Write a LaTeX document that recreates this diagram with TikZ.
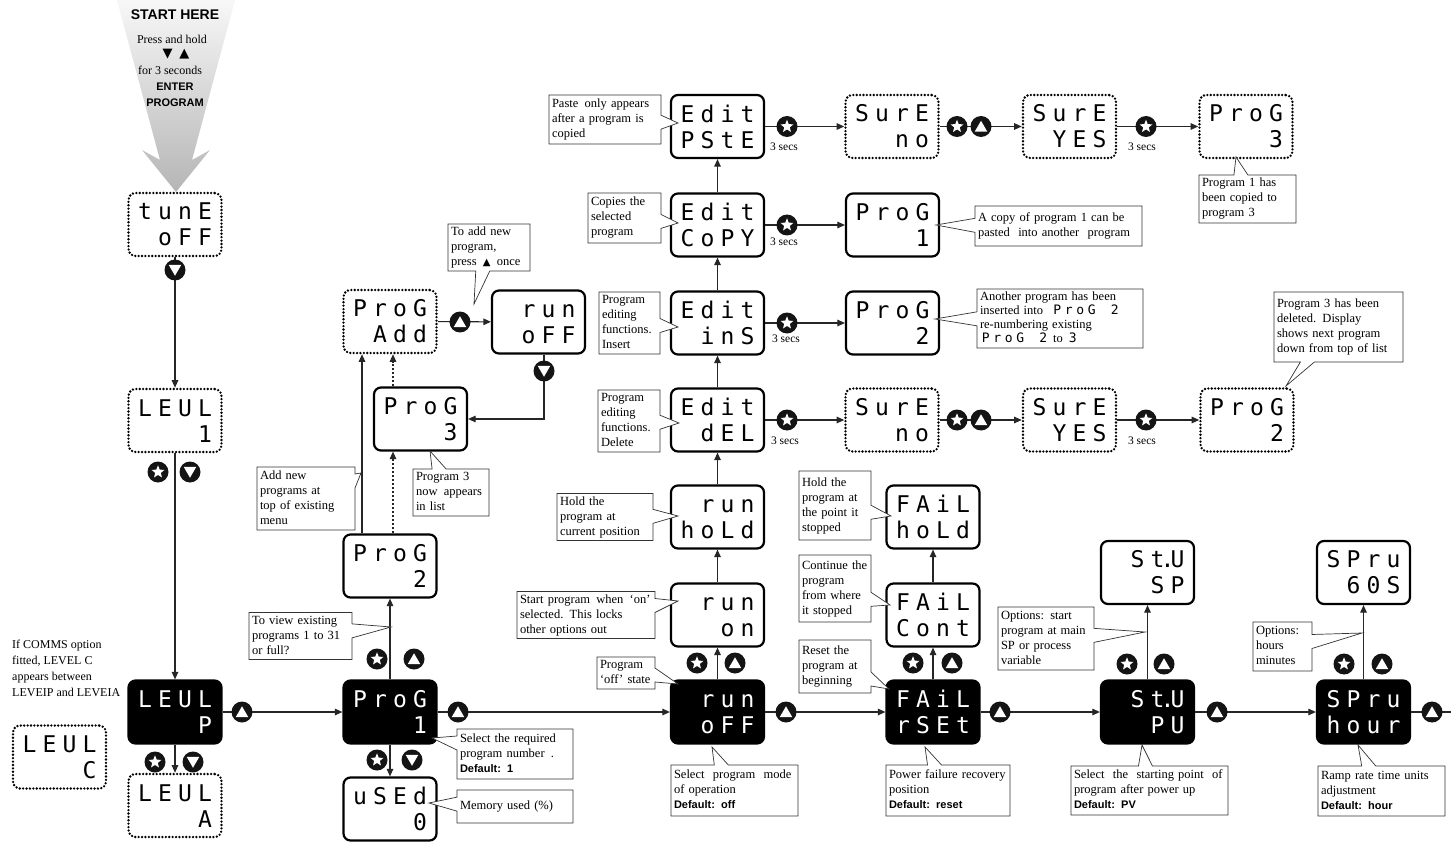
\documentclass[tikz,border=0pt]{standalone}
\usepackage{fontspec}
\setmainfont{Liberation Serif}
\setsansfont{Liberation Sans}
\newfontfamily\dispfont{DejaVu Sans Mono}
\newfontfamily\symfont{DejaVu Sans}
\newfontfamily\hsans{Liberation Sans}
\usetikzlibrary{shapes.geometric,shapes.callouts,arrows.meta,calc}
\newlength\segw \setlength\segw{20pt}
\makeatletter
\def\segs#1{\seg@loop#1\@nil}
\def\seg@loop#1{\ifx#1\@nil\else\seg@one#1\expandafter\seg@loop\fi}
\def\seg@one#1{\ifx#1.\makebox[0pt]{.}\else\makebox[\segw][c]{#1}\fi}
\makeatother
\newcommand\dtxt[2]{\rule{0pt}{17pt}\segs{#1}\\\segs{#2}}
\newcommand\mini[1]{{\dispfont\fontsize{13}{13}\selectfont\setlength\segw{11.5pt}\segs{#1}}}
\newcommand\dflt[1]{{\sffamily\bfseries\fontsize{11}{15}\selectfont #1}}
\newcommand\btup[2]{\node[btnc] (#1) at (#2) {};\node[tri] at ([yshift=-1.5pt]#1.center) {};}
\newcommand\btdn[2]{\node[btnc] (#1) at (#2) {};\node[tri,shape border rotate=180] at ([yshift=1.5pt]#1.center) {};}
\newcommand\btst[2]{\node[btnc] (#1) at (#2) {};\node[stari] at (#1.center) {};}
\newcommand\mkcall[8][]{%
 \pgfmathsetmacro\cx{(#3+#5)/2}\pgfmathsetmacro\cy{(#4+#6)/2}%
 \pgfmathsetmacro\tw{#5-#3-6}\pgfmathsetmacro\th{#6-#4}%
 \node[call,#1,text width=\tw pt,minimum height=\th pt,callout absolute pointer={(#7)}] (#2) at (\cx,\cy) {\begin{tabular}{@{}l@{}}#8\end{tabular}};}
\begin{document}
\begin{tikzpicture}[x=1pt,y=-1pt,
 disp/.style={rectangle, rounded corners=7pt, draw=black, line width=2.2pt, minimum width=93pt, minimum height=63pt, text width=80pt, align=right, inner xsep=6.5pt, inner ysep=0pt, font=\dispfont\fontsize{23}{26}\selectfont},
 blk/.style={disp, fill=black, text=white},
 dots/.style={disp, dash pattern=on 0pt off 3.4pt, line cap=round, line width=2.6pt},
 conn/.style={draw=black!85, line width=1.1pt, -{Triangle[length=7.5pt,width=6.5pt]}},
 plain/.style={draw=black!85, line width=1.1pt},
 dconn/.style={conn, dash pattern=on 2pt off 2pt},
 btnc/.style={circle, fill=black!92, minimum size=21pt, inner sep=0pt},
 tri/.style={regular polygon, regular polygon sides=3, fill=white, minimum size=14.5pt, inner sep=0pt},
 stari/.style={star, star points=5, star point ratio=2.3, fill=white, minimum size=13.5pt, inner sep=0pt},
 call/.style={rectangle callout, draw=black!80, line width=0.7pt, fill=white, font=\fontsize{12.5}{15}\selectfont, align=left, inner xsep=3pt, inner ysep=1pt, callout pointer width=14pt},
 secs/.style={font=\fontsize{11.5}{12}\selectfont, inner sep=0pt},
 lbl/.style={font=\fontsize{12}{12}\selectfont, inner sep=0pt},
 hb/.style={font=\hsans\bfseries\fontsize{11}{11}\selectfont, inner sep=0pt}
]
\useasboundingbox (0,0) rectangle (1451,845);
\fill[white] (0,0) rectangle (1451,845);
% start arrow
\shade[top color=gray!6, bottom color=gray!58] (117,0) -- (160,160) -- (142,150) -- (176,192) -- (210,150) -- (192,160) -- (235,0) -- cycle;
\node[font=\hsans\bfseries\fontsize{14}{14}\selectfont, inner sep=0pt] (st) at (175,15) {START HERE};
\node[lbl] (pr) at (172,39) {Press and hold};
\node[font=\symfont\fontsize{13}{13}\selectfont, inner sep=0pt] (sy) at (176,54) {▼\makebox[7pt]{}▲};
\node[lbl] (f3) at (170,70) {for 3 seconds};
\node[hb] (en) at (175,87) {ENTER};
\node[hb] (pgm) at (175,103) {PROGRAM};
% displays
\node[dots] (tune) at (175,224.5) {\dtxt{tunE}{oFF}};
\node[dots] (lev1) at (175,420.5) {\dtxt{LEUL}{1}};
\node[blk] (levP) at (175,712) {\dtxt{LEUL}{P}};
\node[dots] (levA) at (175,805.5) {\dtxt{LEUL}{A}};
\node[dots] (levC) at (59.5,757) {\dtxt{LEUL}{C}};
\node[blk] (pg1) at (390,712) {\dtxt{ProG}{1}};
\node[disp] (used) at (390,809) {\dtxt{uSEd}{0}};
\node[disp] (pg2) at (390,566) {\dtxt{ProG}{2}};
\node[disp] (pg3) at (420.5,419) {\dtxt{ProG}{3}};
\node[dots] (pgadd) at (390,321.5) {\dtxt{ProG}{Add}};
\node[disp] (runw) at (538.5,322) {\dtxt{run}{oFF}};
\node[blk] (runoff) at (717.5,712) {\dtxt{run}{oFF}};
\node[disp] (runon) at (717.5,615) {\dtxt{run}{on}};
\node[disp] (runhold) at (717.5,517) {\dtxt{run}{hoLd}};
\node[disp] (edel) at (717.5,420) {\dtxt{Edit}{dEL}};
\node[disp] (eins) at (717.5,323) {\dtxt{Edit}{inS}};
\node[disp] (ecopy) at (717.5,225) {\dtxt{Edit}{CoPY}};
\node[disp] (epste) at (717.5,126.5) {\dtxt{Edit}{PStE}};
\node[dots] (s1n) at (892,126.5) {\dtxt{SurE}{no}};
\node[dots] (s1y) at (1069.5,126.5) {\dtxt{SurE}{YES}};
\node[dots] (pg3c) at (1246,126.5) {\dtxt{ProG}{3}};
\node[disp] (pg1c) at (892.5,225) {\dtxt{ProG}{1}};
\node[disp] (pg2i) at (892.5,323) {\dtxt{ProG}{2}};
\node[dots] (s2n) at (892,420) {\dtxt{SurE}{no}};
\node[dots] (s2y) at (1069.5,420) {\dtxt{SurE}{YES}};
\node[dots] (pg2d) at (1247,420) {\dtxt{ProG}{2}};
\node[blk] (failr) at (933,712) {\dtxt{FAiL}{rSEt}};
\node[disp] (failc) at (933,615) {\dtxt{FAiL}{Cont}};
\node[disp] (failh) at (933,517) {\dtxt{FAiL}{hoLd}};
\node[blk] (stupv) at (1147.5,712) {\dtxt{St.U}{PU}};
\node[disp] (stusp) at (1147.5,572.5) {\dtxt{St.U}{SP}};
\node[blk] (sprh) at (1363.5,712) {\dtxt{SPru}{hour}};
\node[disp] (spr60) at (1363.5,572.5) {\dtxt{SPru}{60S}};
% connectors
\draw[conn] (tune) -- (lev1);
\draw[conn] (lev1) -- (levP);
\draw[conn] (levP) -- (levA);
\draw[conn] (levP) -- (pg1);
\draw[conn] (pg1) -- (runoff);
\draw[conn] (runoff) -- (failr);
\draw[conn] (failr) -- (stupv);
\draw[conn] (stupv) -- (sprh);
\coordinate (edge) at (1451,712);
\draw[plain] (sprh) -- (edge);
\draw[conn] (pg1) -- (pg2);
\draw[conn] (pg1) -- (used);
\coordinate (sx) at (362,0);
\coordinate (dx) at (393,0);
\coordinate (bx) at (544,0);
\draw[conn] (pg2.north -| sx) -- (pgadd.south -| sx);
\draw[dconn] (pg2.north -| dx) -- (pg3.south -| dx);
\draw[dconn] (pg3.north -| dx) -- (pgadd.south -| dx);
\draw[conn] (pgadd) -- (runw);
\draw[conn] (runw.south -| bx) |- (pg3.east);
\draw[conn] (runoff) -- (runon);
\draw[conn] (runon) -- (runhold);
\draw[conn] (runhold) -- (edel);
\draw[conn] (edel) -- (eins);
\draw[conn] (eins) -- (ecopy);
\draw[conn] (ecopy) -- (epste);
\draw[conn] (epste) -- (s1n);
\draw[conn] (s1n) -- (s1y);
\draw[conn] (s1y) -- (pg3c);
\draw[conn] (ecopy) -- (pg1c);
\draw[conn] (eins) -- (pg2i);
\draw[conn] (edel) -- (s2n);
\draw[conn] (s2n) -- (s2y);
\draw[conn] (s2y) -- (pg2d);
\draw[conn] (failr) -- (failc);
\draw[conn] (failc) -- (failh);
\draw[conn] (stupv) -- (stusp);
\draw[conn] (sprh) -- (spr60);
% buttons
\btdn{b1}{175,270}
\btst{b2}{158,472} \btdn{b3}{190,472}
\btup{b4}{242,712}
\btst{b5}{155,762} \btdn{b6}{193,762}
\btup{b7}{458,712}
\btst{b8}{377,659} \btup{b9}{414,659}
\btst{b10}{377,760} \btdn{b11}{412,760}
\btup{b12}{460,322}
\btdn{b13}{544,371}
\btst{b14}{697,663} \btup{b15}{735,663}
\btup{b16}{786,712}
\btst{b17}{787,126.5} \btst{b18}{787,225} \btst{b19}{787,323} \btst{b20}{787,420}
\btst{b21}{957,126.5} \btup{b22}{981,126.5}
\btst{b23}{1146,126.5}
\btst{b24}{957,420} \btup{b25}{981,420}
\btst{b26}{1146,420}
\btst{b27}{913,663} \btup{b28}{952,663}
\btup{b29}{1000,712}
\btst{b30}{1127,664} \btup{b31}{1164,664}
\btup{b32}{1217,712}
\btst{b33}{1344,664} \btup{b34}{1382,664}
\btup{b35}{1432,712}
% 3 secs
\node[secs] (t1) at (784,147) {3 secs};
\node[secs] (t2) at (784,242) {3 secs};
\node[secs] (t3) at (786,339) {3 secs};
\node[secs] (t4) at (785,441) {3 secs};
\node[secs] (t5) at (1142,147) {3 secs};
\node[secs] (t6) at (1142,441) {3 secs};
% COMMS note
\node[anchor=north west, align=left, font=\fontsize{12}{16}\selectfont, inner sep=0pt] (comms) at (12,640) {If COMMS option\\fitted, LEVEL C\\appears between\\LEVEIP and  LEVEIA};
% callouts
\coordinate (tA) at (474,304);
\coordinate (tB) at (361,473);
\coordinate (tC) at (430,451);
\coordinate (tD) at (391,627);
\coordinate (tE) at (432,738);
\coordinate (tF) at (429,803);
\coordinate (tG) at (678,123);
\coordinate (tH) at (678,223);
\coordinate (tI) at (678,327);
\coordinate (tJ) at (679,423);
\coordinate (tK) at (678,516);
\coordinate (tL) at (678,601);
\coordinate (tM) at (678,684);
\coordinate (tN) at (712,747);
\coordinate (tO) at (891,516);
\coordinate (tP) at (890,605);
\coordinate (tQ) at (889,689);
\coordinate (tR) at (925,747);
\coordinate (tS) at (1145,632);
\coordinate (tT) at (1142,745);
\coordinate (tU) at (1362,633);
\coordinate (tV) at (1358,745);
\coordinate (tW) at (936,225);
\coordinate (tX) at (935,319);
\coordinate (tY) at (1236,157);
\coordinate (tZ) at (1286,386);
\mkcall{cA}{448}{224}{530}{271}{tA}{To add new\\program,\\press \,{\symfont\fontsize{10}{10}\selectfont ▲}\, once}
\mkcall{cB}{257}{467}{355}{530}{tB}{Add new\\programs at\\top of existing\\menu}
\mkcall{cC}{413}{469}{489}{516}{tC}{Program 3\\now \,appears\\in list}
\mkcall{cD}{249}{613}{352}{659}{tD}{To view existing\\programs 1 to 31\\or full?}
\mkcall{cE}{457}{729}{573}{779}{tE}{Select the required\\program number \,.\\\dflt{Default: 1}}
\mkcall{cF}{457}{790}{573}{823}{tF}{Memory used (\%)}
\mkcall{cG}{549}{95}{661}{144}{tG}{Paste \,only appears\\after a program is\\copied}
\mkcall{cH}{588}{193}{661}{243}{tH}{Copies the\\selected\\program}
\mkcall{cI}{599}{293}{660}{353}{tI}{Program\\editing\\functions.\\Insert}
\mkcall{cJ}{598}{390}{660}{452}{tJ}{Program\\editing\\functions.\\Delete}
\mkcall{cK}{557}{494}{653}{540}{tK}{Hold the\\program at\\current position}
\mkcall{cL}{517}{592}{655}{638}{tL}{Start program \,when \,‘on’\\selected. This locks\\other options out}
\mkcall{cM}{597}{657}{655}{689}{tM}{Program\\‘off’ state}
\mkcall{cN}{671}{765}{798}{816}{tN}{Select \ program \ mode\\of operation\\\dflt{Default: off}}
\mkcall{cO}{799}{471}{871}{540}{tO}{Hold the\\program at\\the point it\\stopped}
\mkcall{cP}{799}{555}{871}{622}{tP}{Continue the\\program\\from where\\it stopped}
\mkcall{cQ}{799}{640}{871}{693}{tQ}{Reset the\\program at\\beginning}
\mkcall{cR}{886}{765}{1010}{816}{tR}{Power failure recovery\\position\\\dflt{Default: reset}}
\mkcall{cS}{998}{607}{1094}{670}{tS}{Options: start\\program at main\\SP or process\\variable}
\mkcall{cT}{1071}{766}{1228}{815}{tT}{Select \ the \ starting point \ of\\program after power up\\\dflt{Default: PV}}
\mkcall{cU}{1253}{622}{1312}{671}{tU}{Options:\\hours\\minutes}
\mkcall{cV}{1318}{766}{1445}{816}{tV}{Ramp rate time units\\adjustment\\\dflt{Default: hour}}
\mkcall{cW}{975}{206}{1142}{246}{tW}{A copy of program 1 can be\\pasted \ into another \ program}
\mkcall[font=\fontsize{12.5}{14}\selectfont]{cX}{977}{289}{1143}{348}{tX}{Another program has been\\inserted into \ \mini{ProG~2}\\re-numbering existing\\\mini{ProG~2} to \mini{3}}
\mkcall{cY}{1199}{175}{1296}{223}{tY}{Program 1 has\\been copied to\\program 3}
\mkcall{cZ}{1274}{292}{1403}{362}{tZ}{Program 3 has been\\deleted. Display\\shows next program\\down from top of list}
\end{tikzpicture}
\end{document}
